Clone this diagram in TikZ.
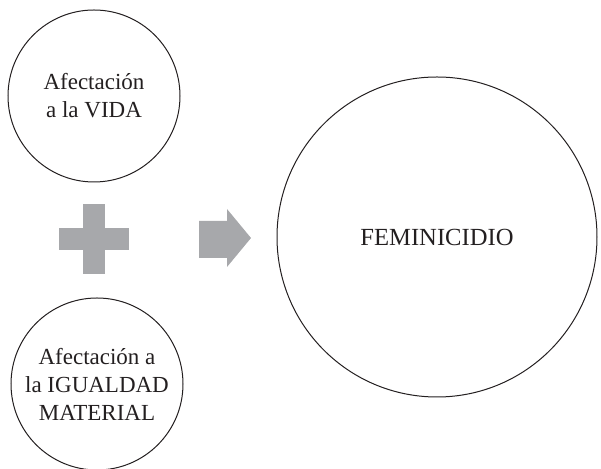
\documentclass[tikz,border=0pt]{standalone}
\usepackage{fontspec}
\setmainfont{Liberation Serif}
\usepackage{tikz}
\usetikzlibrary{positioning}

\definecolor{txtgray}{HTML}{231F20}
\definecolor{symgray}{HTML}{A7A8AB}

\tikzset{
  bubble/.style={circle,draw=txtgray,line width=0.5pt,text=txtgray,align=center,
    inner sep=0pt,font=\fontsize{11.5}{14}\selectfont},
}

\begin{document}
\begin{tikzpicture}[x=0.5pt,y=-0.5pt]
  \useasboundingbox (0,0) rectangle (601,469); %Page frame
  \pgfmathsetmacro {\rs}{86}   %small circle radius
  \pgfmathsetmacro {\rb}{160}  %big circle radius
  \pgfmathsetmacro {\aw}{11}   %half width of plus arm
  \pgfmathsetmacro {\al}{35}   %half length of plus arm

  %Draw the three circles
  \node[bubble,minimum size=2*\rs*0.5pt] (vida) at (94,96) {Afectación\\a la VIDA};
  \node[bubble,minimum size=2*\rs*0.5pt] (igualdad) at (97,384) {Afectación a\\la IGUALDAD\\MATERIAL};
  \node[bubble,minimum size=2*\rb*0.5pt,font=\fontsize{12.3}{14}\selectfont] (femi) at (437,237) {FEMINICIDIO};

  %Draw the plus sign
  \coordinate (plus) at (94,239);
  \fill[symgray] ([shift={(-\aw,-\al)}]plus) rectangle ([shift={(\aw,\al)}]plus) ;
  \fill[symgray] ([shift={(-\al,-\aw)}]plus) rectangle ([shift={(\al,\aw)}]plus) ;

  %Draw the arrow
  \fill[symgray] (199,221) -- (227,221) -- (227,209) -- (251,238) -- (227,267)
    -- (227,258) -- (199,258) -- cycle ;
\end{tikzpicture}
\end{document}
